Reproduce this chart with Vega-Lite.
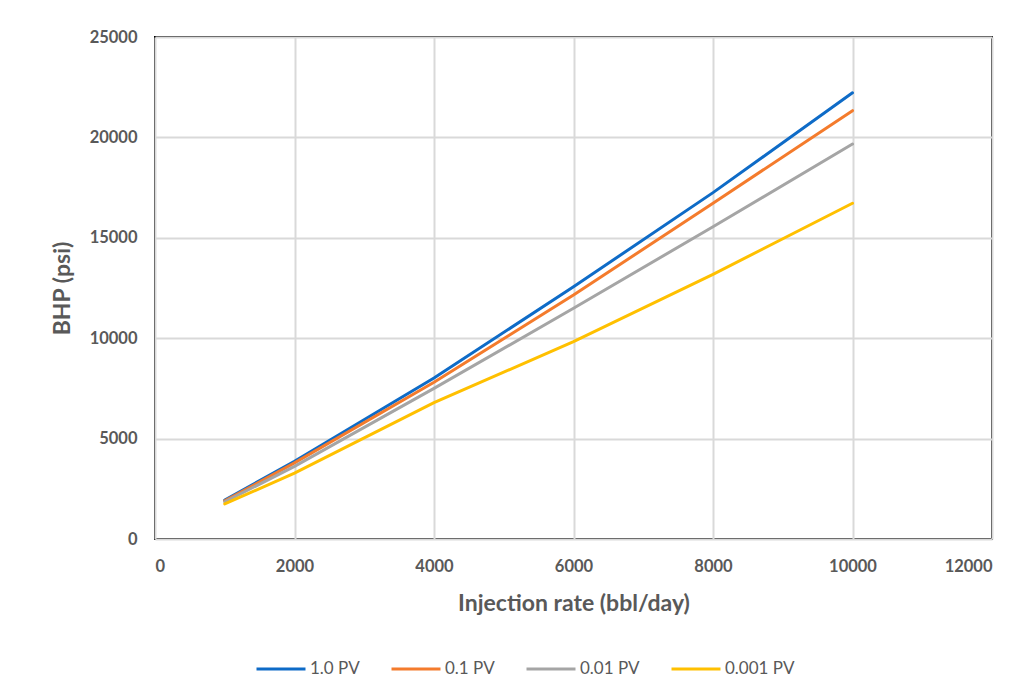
{
  "$schema": "https://vega.github.io/schema/vega-lite/v6.json",
  "width": 837,
  "height": 502,
  "autosize": {"type": "none"},
  "padding": {"left": 155, "top": 37, "right": 43, "bottom": 152},
  "background": "white",
  "data": {
    "values": [
      {"rate": 1000, "bhp": 1940, "series": "1.0 PV"},
      {"rate": 2000, "bhp": 3870, "series": "1.0 PV"},
      {"rate": 4000, "bhp": 8020, "series": "1.0 PV"},
      {"rate": 6000, "bhp": 12560, "series": "1.0 PV"},
      {"rate": 8000, "bhp": 17250, "series": "1.0 PV"},
      {"rate": 10000, "bhp": 22220, "series": "1.0 PV"},
      {"rate": 1000, "bhp": 1900, "series": "0.1 PV"},
      {"rate": 2000, "bhp": 3790, "series": "0.1 PV"},
      {"rate": 4000, "bhp": 7810, "series": "0.1 PV"},
      {"rate": 6000, "bhp": 12150, "series": "0.1 PV"},
      {"rate": 8000, "bhp": 16720, "series": "0.1 PV"},
      {"rate": 10000, "bhp": 21330, "series": "0.1 PV"},
      {"rate": 1000, "bhp": 1850, "series": "0.01 PV"},
      {"rate": 2000, "bhp": 3620, "series": "0.01 PV"},
      {"rate": 4000, "bhp": 7500, "series": "0.01 PV"},
      {"rate": 6000, "bhp": 11490, "series": "0.01 PV"},
      {"rate": 8000, "bhp": 15550, "series": "0.01 PV"},
      {"rate": 10000, "bhp": 19670, "series": "0.01 PV"},
      {"rate": 1000, "bhp": 1745, "series": "0.001 PV"},
      {"rate": 2000, "bhp": 3280, "series": "0.001 PV"},
      {"rate": 4000, "bhp": 6790, "series": "0.001 PV"},
      {"rate": 6000, "bhp": 9830, "series": "0.001 PV"},
      {"rate": 8000, "bhp": 13180, "series": "0.001 PV"},
      {"rate": 10000, "bhp": 16720, "series": "0.001 PV"}
    ]
  },
  "mark": {"type": "line", "strokeWidth": 3, "strokeCap": "round"},
  "encoding": {
    "x": {
      "field": "rate",
      "type": "quantitative",
      "title": "Injection rate (bbl/day)",
      "scale": {"domain": [0, 12000], "nice": false, "zero": true},
      "axis": {
        "values": [0, 2000, 4000, 6000, 8000, 10000, 12000],
        "format": "d",
        "labelPadding": 19,
        "titlePadding": 18
      }
    },
    "y": {
      "field": "bhp",
      "type": "quantitative",
      "title": "BHP (psi)",
      "scale": {"domain": [0, 25000], "nice": false},
      "axis": {
        "values": [0, 5000, 10000, 15000, 20000, 25000],
        "format": "d",
        "labelPadding": 18,
        "titlePadding": 15
      }
    },
    "color": {
      "field": "series",
      "type": "nominal",
      "title": null,
      "scale": {
        "domain": ["1.0 PV", "0.1 PV", "0.01 PV", "0.001 PV"],
        "range": ["#0E6BC7", "#F47B2C", "#A5A5A5", "#FFC000"]
      },
      "legend": {
        "orient": "none",
        "direction": "horizontal",
        "legendX": 100,
        "legendY": 606,
        "symbolType": "stroke",
        "symbolSize": 2400,
        "symbolStrokeWidth": 3,
        "labelFontSize": 17,
        "labelColor": "#595959",
        "labelFont": "Lato",
        "columnPadding": 25,
        "labelOffset": 3
      }
    }
  },
  "config": {
    "view": {"stroke": "#000000", "strokeWidth": 2},
    "axis": {
      "grid": true,
      "gridColor": "#D9D9D9",
      "gridWidth": 2,
      "domain": false,
      "ticks": false,
      "labelFont": "Lato",
      "labelFontSize": 16.5,
      "labelFontWeight": "bold",
      "labelColor": "#595959",
      "titleFont": "Lato",
      "titleFontSize": 23,
      "titleFontWeight": "bold",
      "titleColor": "#595959"
    }
  }
}
